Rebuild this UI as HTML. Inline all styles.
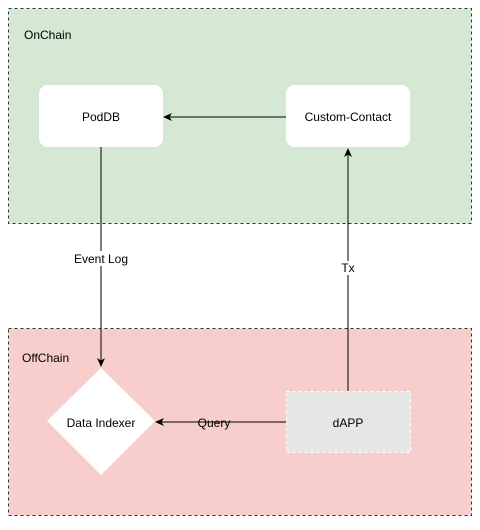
<!DOCTYPE html>
<html><head><style>body{margin:0;background:#fff}</style></head><body>
<svg width="480" height="525" xmlns="http://www.w3.org/2000/svg" font-family="Liberation Sans, sans-serif" font-size="12">
<defs><marker id="a" markerWidth="10" markerHeight="10" refX="8" refY="5" orient="auto" markerUnits="userSpaceOnUse"><path d="M0,1 L9,5 L0,9 L2.5,5 Z" fill="#000"/></marker></defs>
<rect x="8.5" y="8.5" width="463" height="215" fill="#d5e8d4" stroke="#333" stroke-dasharray="3,3"/>
<text x="24" y="39" fill="#000">OnChain</text>
<rect x="8.5" y="328.5" width="463" height="187" fill="#f8cecc" stroke="#333" stroke-dasharray="3,3"/>
<text x="22" y="362" fill="#000">OffChain</text>
<rect x="39" y="85" width="124" height="62" rx="9" fill="#fff"/>
<text x="101" y="121" text-anchor="middle">PodDB</text>
<rect x="286" y="85" width="124" height="62" rx="9" fill="#fff"/>
<text x="348" y="121" text-anchor="middle">Custom-Contact</text>
<rect x="286.5" y="391.5" width="124" height="61" fill="#e6e6e6" stroke="#fff" stroke-dasharray="3,3"/>
<text x="348" y="427" text-anchor="middle">dAPP</text>
<polygon points="101,368 155,421 101,475 47,421" fill="#fff"/>
<text x="101" y="427" text-anchor="middle">Data Indexer</text>
<line x1="286" y1="117" x2="164" y2="117" stroke="#000" marker-end="url(#a)"/>
<line x1="101" y1="147" x2="101" y2="366" stroke="#000" marker-end="url(#a)"/>
<line x1="348" y1="391" x2="348" y2="149" stroke="#000" marker-end="url(#a)"/>
<line x1="286" y1="422" x2="156" y2="422" stroke="#000" marker-end="url(#a)"/>
<rect x="72" y="251" width="58" height="15" fill="#fff"/>
<text x="101" y="263" text-anchor="middle">Event Log</text>
<rect x="340" y="261" width="16" height="14" fill="#fff"/>
<text x="348" y="272" text-anchor="middle">Tx</text>
<text x="214" y="427" text-anchor="middle">Query</text>
</svg>
</body></html>
